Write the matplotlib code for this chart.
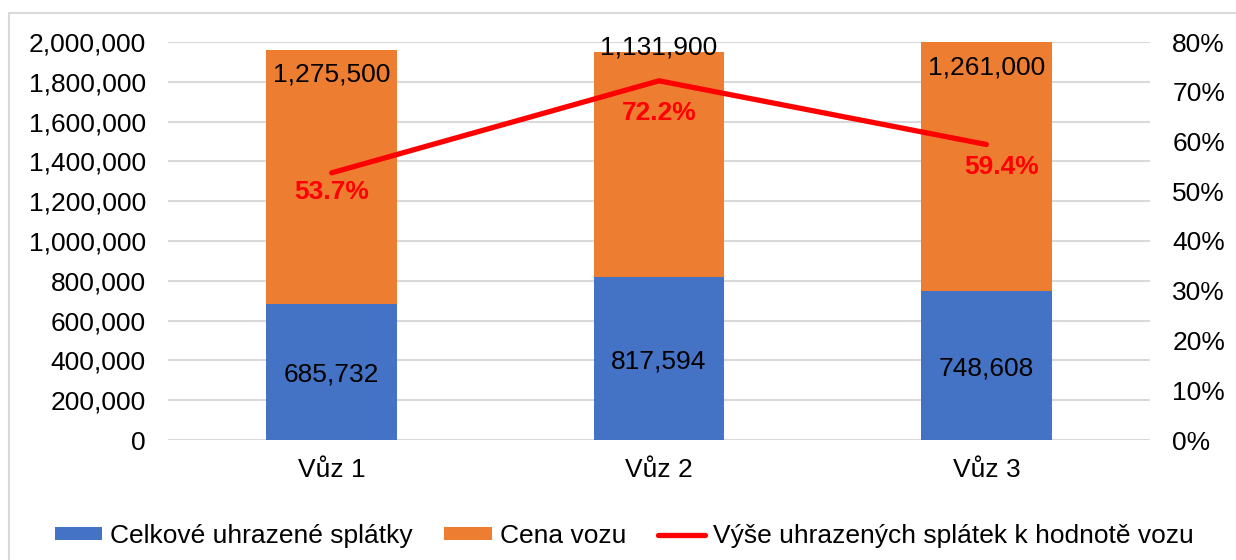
import numpy as np
import matplotlib
matplotlib.use('Agg')
import matplotlib.pyplot as plt
from matplotlib.patches import Rectangle
from matplotlib.ticker import FuncFormatter, PercentFormatter

# data
cars = ['Vůz 1', 'Vůz 2', 'Vůz 3']
paid = [685732, 817594, 748608]          # Celkové uhrazené splátky
price = [1275500, 1131900, 1261000]      # Cena vozu
ratio = [0.537, 0.722, 0.594]            # Výše uhrazených splátek k hodnotě vozu

plt.rcParams['font.family'] = ['Liberation Sans', 'DejaVu Sans']
plt.rcParams['font.size'] = 19

fig = plt.figure(figsize=(12.36, 5.6), dpi=100)
# light grey chart frame (runs off the right and bottom edge)
fig.patches.append(Rectangle((9 / 1236, -0.05), 1.1, 1 - 13 / 560 + 0.05,
                             transform=fig.transFigure, fill=False,
                             edgecolor='#D9D9D9', linewidth=1.5))

ax = fig.add_axes([168 / 1236, 1 - 440 / 560, 982 / 1236, 398 / 560])
x = np.arange(len(cars))
w = 0.4
b1 = ax.bar(x, paid, w, color='#4472C4', label='Celkové uhrazené splátky', zorder=2)
b2 = ax.bar(x, price, w, bottom=paid, color='#ED7D31', label='Cena vozu', zorder=2)

ax.set_xlim(-0.5, 2.5)
ax.set_ylim(0, 2000000)
ax.set_yticks(np.arange(0, 2000001, 200000))
ax.yaxis.set_major_formatter(FuncFormatter(lambda v, p: f'{int(v):,}'))
ax.grid(axis='y', color='#D9D9D9', linewidth=1.5, zorder=0)
ax.set_axisbelow(True)
for s in ax.spines.values():
    s.set_visible(False)
ax.tick_params(axis='both', length=0)
ax.tick_params(axis='y', pad=16)
ax.tick_params(axis='x', pad=13)
ax.set_xticks(x)
ax.set_xticklabels(cars)

# value labels on the bars
for i in range(len(cars)):
    ax.annotate(f'{paid[i]:,}', (x[i], paid[i] / 2), xytext=(0, -2),
                textcoords='offset points', ha='center', va='center', zorder=5)
top_off = [-18, 3, -18]
for i in range(len(cars)):
    top = min(paid[i] + price[i], 2000000)
    ax.annotate(f'{price[i]:,}', (x[i], top), xytext=(0, top_off[i]),
                textcoords='offset points', ha='center', va='center', zorder=5)

ax2 = ax.twinx()
ax2.set_ylim(0, 0.8)
ax2.set_yticks(np.arange(0, 0.81, 0.1))
ax2.yaxis.set_major_formatter(PercentFormatter(1.0, decimals=0))
for s in ax2.spines.values():
    s.set_visible(False)
ax2.tick_params(axis='y', length=0, pad=16)
ln, = ax2.plot(x, ratio, color='#FF0000', linewidth=3.8, solid_capstyle='round',
               label='Výše uhrazených splátek k hodnotě vozu', zorder=4)
lab_off = [(0, -14), (0, -23), (11, -16)]
for i in range(len(cars)):
    ax2.annotate(f'{ratio[i] * 100:.1f}%', (x[i], ratio[i]), xytext=lab_off[i],
                 textcoords='offset points', ha='center', va='center',
                 color='#FF0000', fontweight='bold')

fig.legend(handles=[b1, b2, ln], loc='center', bbox_to_anchor=(0.505, 1 - 536 / 560),
           ncol=3, frameon=False, handlelength=1.8, handleheight=0.36,
           handletextpad=0.3, columnspacing=1.2)

fig.savefig('out.png', dpi=100)
